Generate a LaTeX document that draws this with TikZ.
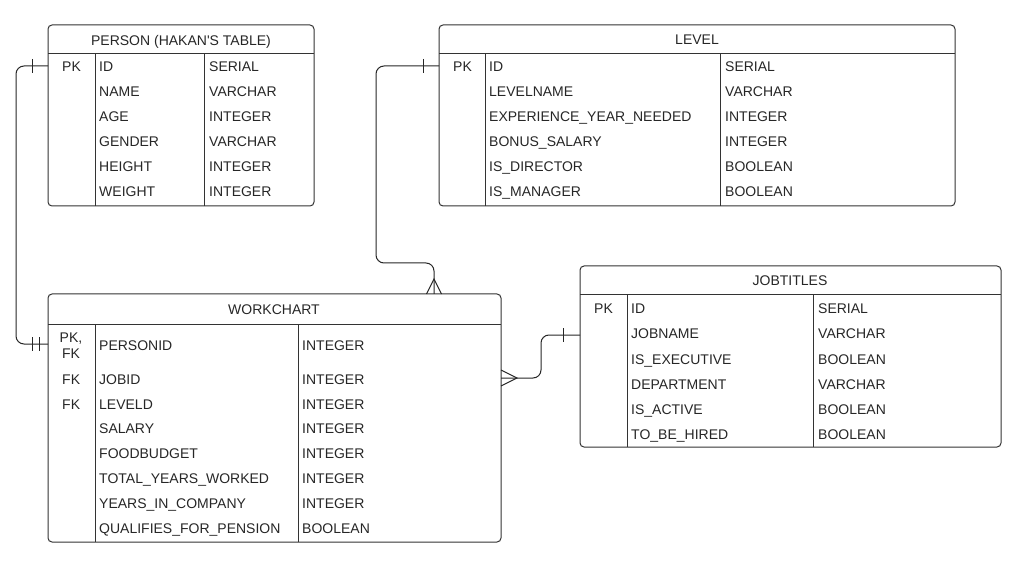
\documentclass[tikz,border=0pt]{standalone}
\usepackage{fontspec}
\setmainfont{Liberation Sans}[Ligatures=TeXOff]
\usetikzlibrary{calc}
\tikzset{
  tbl/.style={draw=black!80, line width=1pt, rounded corners=4pt},
  tblline/.style={draw=black!80, line width=1pt},
  cell/.style={anchor=base west, inner sep=0pt, text=black!85, font=\fontsize{14}{16}\selectfont},
  ttl/.style={anchor=base, inner sep=0pt, text=black!85, font=\fontsize{14}{16}\selectfont},
  rel/.style={draw=black!85, line width=1pt, rounded corners=8pt},
  mark1/.style={draw=black!85, line width=1pt},
}
\begin{document}
\begin{tikzpicture}[x=1pt,y=-1pt]
\useasboundingbox (0,0) rectangle (1025,569);
% PERSON
\draw[tbl] (48,25) rectangle (314,206);
\draw[tblline] (48,54) -- (314,54) (95,54) -- (95,206) (204,54) -- (204,206);
\node[ttl] (person-title) at (181,46) {PERSON (HAKAN'S TABLE)};
\foreach \y/\k/\n/\t [count=\i] in {66/PK/ID/SERIAL, 91//NAME/VARCHAR, 116//AGE/INTEGER,
    141//GENDER/VARCHAR, 166//HEIGHT/INTEGER, 191//WEIGHT/INTEGER} {
  \node[cell] (person-key-\i) at (62,\y+6) {\k};
  \node[cell] (person-name-\i) at (99,\y+6) {\n};
  \node[cell] (person-type-\i) at (209,\y+6) {\t};
}
% LEVEL
\draw[tbl] (439,25) rectangle (955,206);
\draw[tblline] (439,54) -- (955,54) (485,54) -- (485,206) (720,54) -- (720,206);
\node[ttl] (level-title) at (697,45) {LEVEL};
\foreach \y/\k/\n/\t [count=\i] in {66/PK/ID/SERIAL, 91//LEVELNAME/VARCHAR,
    116//EXPERIENCE\_YEAR\_NEEDED/INTEGER, 141//BONUS\_SALARY/INTEGER,
    166//IS\_DIRECTOR/BOOLEAN, 191//IS\_MANAGER/BOOLEAN} {
  \node[cell] (level-key-\i) at (453,\y+6) {\k};
  \node[cell] (level-name-\i) at (489,\y+6) {\n};
  \node[cell] (level-type-\i) at (725,\y+6) {\t};
}
% WORKCHART
\draw[tbl] (48,294) rectangle (501,542);
\draw[tblline] (48,324) -- (501,324) (95,324) -- (95,542) (298,324) -- (298,542);
\node[ttl] (work-title) at (274,314) {WORKCHART};
\node[ttl] (work-key-1a) at (71,342) {PK,};
\node[ttl] (work-key-1b) at (71,358) {FK};
\node[cell] (work-name-1) at (99,350) {PERSONID};
\node[cell] (work-type-1) at (302,350) {INTEGER};
\foreach \y/\k/\n/\t [count=\i from 2] in {378/FK/JOBID/INTEGER, 403/FK/LEVELD/INTEGER,
    427//SALARY/INTEGER, 452//FOODBUDGET/INTEGER, 477//TOTAL\_YEARS\_WORKED/INTEGER,
    502//YEARS\_IN\_COMPANY/INTEGER, 527//QUALIFIES\_FOR\_PENSION/BOOLEAN} {
  \node[cell] (work-key-\i) at (62,\y+6) {\k};
  \node[cell] (work-name-\i) at (99,\y+6) {\n};
  \node[cell] (work-type-\i) at (302,\y+6) {\t};
}
% JOBTITLES
\draw[tbl] (580,266) rectangle (1001,447);
\draw[tblline] (580,295) -- (1001,295) (627,295) -- (627,447) (813,295) -- (813,447);
\node[ttl] (jobs-title) at (790,286) {JOBTITLES};
\foreach \y/\k/\n/\t [count=\i] in {307/PK/ID/SERIAL, 332//JOBNAME/VARCHAR,
    358//IS\_EXECUTIVE/BOOLEAN, 383//DEPARTMENT/VARCHAR,
    408//IS\_ACTIVE/BOOLEAN, 433//TO\_BE\_HIRED/BOOLEAN} {
  \node[cell] (jobs-key-\i) at (594,\y+6) {\k};
  \node[cell] (jobs-name-\i) at (631,\y+6) {\n};
  \node[cell] (jobs-type-\i) at (818,\y+6) {\t};
}
% relations
\coordinate (person-pk) at (48,66);
\coordinate (work-pk) at (48,344);
\coordinate (level-pk) at (439,66);
\coordinate (work-top) at (434,294);
\coordinate (work-job) at (501,378);
\coordinate (jobs-pk) at (580,335);
% person -> workchart (one to one)
\draw[rel] (person-pk) -- ++(-32,0) |- (work-pk);
\draw[mark1] ($(person-pk)+(-16,-7)$) -- ++(0,14);
\draw[mark1] ($(work-pk)+(-16,-7)$) -- ++(0,14) ($(work-pk)+(-9,-7)$) -- ++(0,14);
% level -> workchart (one to many)
\draw[rel] (level-pk) -| (376,263) -| (work-top);
\draw[mark1] ($(level-pk)+(-16,-7)$) -- ++(0,14);
\draw[mark1] ($(work-top)+(-7.5,0)$) -- ($(work-top)+(0,-15)$) -- ($(work-top)+(7.5,0)$);
% workchart -> jobtitles (many to one)
\draw[rel] (work-job) -| (541,356) |- (jobs-pk);
\draw[mark1] ($(jobs-pk)+(-17,-7)$) -- ++(0,14);
\draw[mark1] ($(work-job)+(0,-8)$) -- ($(work-job)+(16,0)$) -- ($(work-job)+(0,8)$);
\end{tikzpicture}
\end{document}
